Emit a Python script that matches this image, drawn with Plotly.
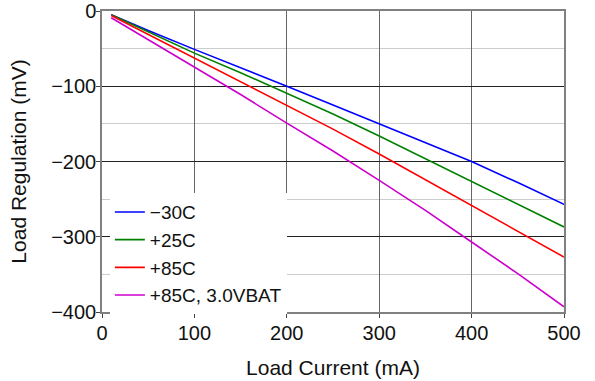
import plotly.graph_objects as go

load_current = [10, 50, 100, 150, 200, 250, 300, 350, 400, 450, 500]
reg_m30 = [-5, -26, -51, -75, -100, -125, -150, -175, -200, -228, -257]
reg_p25 = [-5, -28, -56, -82, -109, -137, -166, -196, -227, -257, -287]
reg_p85 = [-6, -31, -63, -94, -125, -157, -190, -224, -258, -292, -327]
reg_p85_3v = [-9, -38, -74, -111, -149, -186, -225, -265, -307, -349, -393]

series_names = ["\u221230C", "+25C", "+85C", "+85C, 3.0VBAT"]
series_colors = ["#0000ff", "#008000", "#ff0000", "#cc00cc"]
series_values = [reg_m30, reg_p25, reg_p85, reg_p85_3v]

x_ticks = [0, 100, 200, 300, 400, 500]
y_ticks = [0, -100, -200, -300, -400]
y_tick_labels = ["0", "\u2212100", "\u2212200", "\u2212300", "\u2212400"]

fig = go.Figure()
for name, color, vals in zip(series_names, series_colors, series_values):
    fig.add_trace(go.Scatter(x=load_current, y=vals, mode="lines", name=name,
                             line=dict(color=color, width=1.6)))

font = dict(family="Liberation Sans, Arial, sans-serif", size=20, color="#111")
fig.update_layout(
    width=595, height=381,
    margin=dict(l=102, r=31, t=11, b=69),
    paper_bgcolor="white", plot_bgcolor="white",
    font=font,
    showlegend=True,
    legend=dict(x=0.017, y=0.395, xanchor="left", yanchor="top",
                bgcolor="white", borderwidth=0, font=dict(size=19),
                tracegroupgap=0),
    xaxis=dict(range=[0, 500], tickvals=x_ticks, ticks="outside", ticklen=4,
               tickcolor="#444", showgrid=True, gridcolor="#666", gridwidth=1,
               showline=True, linecolor="#808080", linewidth=1.5, mirror=True,
               zeroline=False, automargin=False, ticklabelstandoff=-2,
               title=dict(text="Load Current (mA)", standoff=18, font=dict(size=21)),
               tickfont=dict(size=20)),
    yaxis=dict(range=[-400, 0], tickvals=y_ticks, ticktext=y_tick_labels,
               ticks="outside", ticklen=4, tickcolor="#444",
               showgrid=True, gridcolor="#222", gridwidth=1,
               minor=dict(dtick=50, tick0=0, showgrid=True, gridcolor="#cccccc",
                          gridwidth=1),
               showline=True, linecolor="#808080", linewidth=1.5, mirror=True,
               zeroline=False, automargin=False, ticklabelstandoff=-4,
               title=dict(text="Load Regulation (mV)", standoff=19, font=dict(size=21)),
               tickfont=dict(size=20)),
)

fig.write_html("out.html", config={"displayModeBar": False},
               post_script="document.body.style.margin='0';")
